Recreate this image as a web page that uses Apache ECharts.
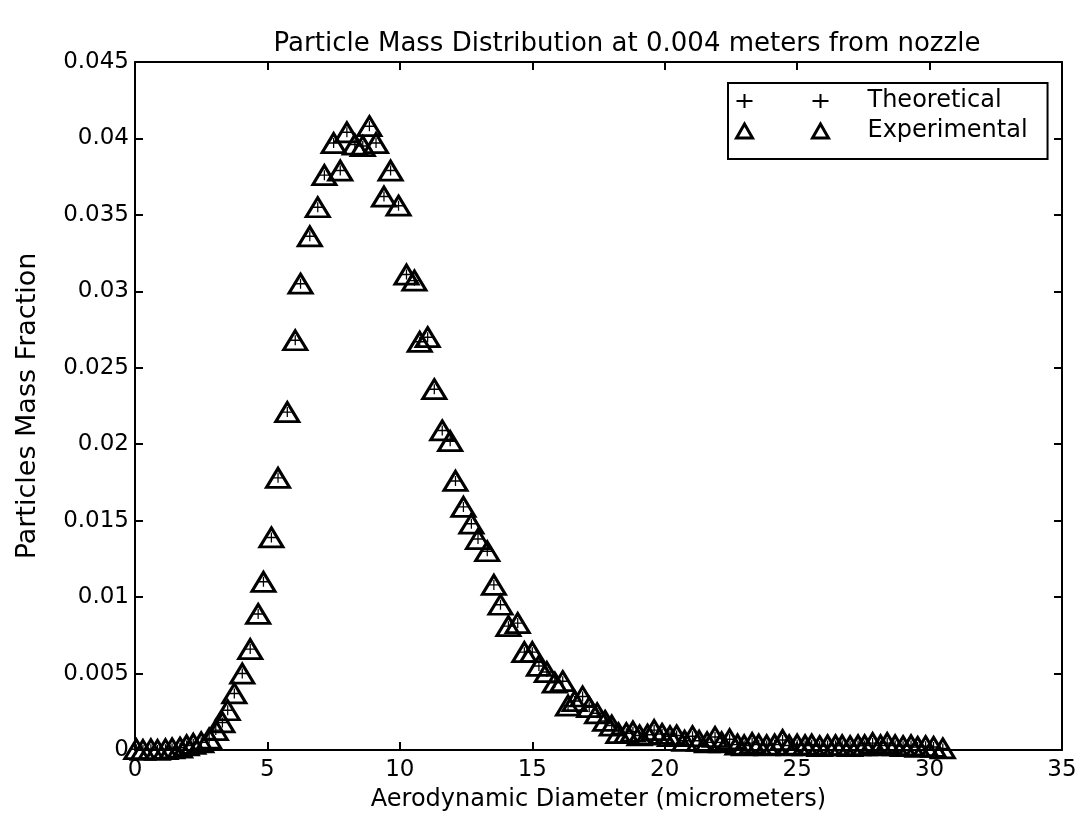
<!DOCTYPE html>
<html>
<head>
<meta charset="utf-8">
<script src="https://cdn.jsdelivr.net/npm/echarts@6/dist/echarts.min.js"></script>
<style>
  html, body { margin: 0; padding: 0; background: #fff; }
  #chart { width: 1092px; height: 820px; }
</style>
</head>
<body>
<div id="chart"></div>
<script>
// 粒径 (micrometers)
var diameter = [0.05, 0.3, 0.6, 0.85, 1.15, 1.4, 1.7, 1.95, 2.2, 2.5,
  2.8, 3.05, 3.3, 3.5, 3.75, 4.05, 4.35, 4.65, 4.85, 5.15,
  5.4, 5.75, 6.05, 6.25, 6.6, 6.9, 7.15, 7.5, 7.75, 8.0,
  8.3, 8.6, 8.85, 9.1, 9.4, 9.65, 9.95, 10.25, 10.55, 10.75,
  11.05, 11.3, 11.6, 11.9, 12.1, 12.4, 12.7, 12.95, 13.3, 13.55,
  13.8, 14.1, 14.45, 14.7, 15.0, 15.25, 15.55, 15.85, 16.15, 16.35,
  16.6, 16.9, 17.15, 17.45, 17.75, 18.0, 18.25, 18.55, 18.8, 19.05,
  19.35, 19.6, 19.9, 20.2, 20.45, 20.75, 21.05, 21.3, 21.6, 21.9,
  22.15, 22.45, 22.75, 23.0, 23.3, 23.55, 23.85, 24.15, 24.45, 24.7,
  25.0, 25.3, 25.55, 25.85, 26.15, 26.45, 26.7, 27.0, 27.3, 27.55,
  27.85, 28.15, 28.4, 28.7, 29.0, 29.3, 29.55, 29.85, 30.15, 30.5];

// 质量分数 (x 1e-3)，理论值和实验值在图上重合
var theoretical = [0.05, 0.0, 0.05, 0.0, 0.05, 0.1, 0.15, 0.3, 0.4, 0.5,
  0.75, 1.3, 1.8, 2.6, 3.7, 5.0, 6.6, 8.9, 11.0, 13.9,
  17.8, 22.1, 26.8, 30.5, 33.6, 35.5, 37.6, 39.7, 37.9, 40.4,
  39.6, 39.5, 40.8, 39.7, 36.2, 37.9, 35.6, 31.1, 30.7, 26.7,
  27.0, 23.6, 20.9, 20.2, 17.6, 15.9, 14.8, 13.8, 13.0, 10.8,
  9.5, 8.1, 8.3, 6.4, 6.4, 5.5, 5.1, 4.4, 4.5, 2.9,
  3.2, 3.5, 2.8, 2.4, 1.9, 1.6, 1.1, 1.1, 1.2, 0.95,
  1.0, 1.3, 1.05, 0.9, 0.95, 0.6, 0.9, 0.6, 0.5, 0.85,
  0.5, 0.7, 0.35, 0.3, 0.45, 0.35, 0.3, 0.35, 0.65, 0.3,
  0.35, 0.3, 0.35, 0.25, 0.3, 0.3, 0.3, 0.25, 0.3, 0.3,
  0.45, 0.3, 0.45, 0.3, 0.25, 0.3, 0.2, 0.25, 0.2, 0.1];
var experimental = theoretical.slice();

var yTicks = ['0', '0.005', '0.01', '0.015', '0.02', '0.025', '0.03', '0.035', '0.04', '0.045'];

function toPairs(ys) {
  var out = [];
  for (var i = 0; i < diameter.length; i++) {
    out.push([diameter[i], ys[i] / 1000]);
  }
  return out;
}

var font = 'DejaVu Sans';
var plusPath = 'path://M7,1h2v6h7v2h-7v6h-2v-6h-7v-2h7z';
var plusPair = 'path://M7,1h2v6h7v2h-7v6h-2v-6h-7v-2h7z M83,1h2v6h7v2h-7v6h-2v-6h-7v-2h7z';
var triPair = 'path://M0,15L8,1L16,15Z M76,15L84,1L92,15Z';

var myChart = echarts.init(document.getElementById('chart'), null, { renderer: 'canvas' });

var tickStyle = { show: true, inside: true, length: 8, lineStyle: { color: '#000', width: 2 } };
var lineStyle = { show: true, onZero: false, lineStyle: { color: '#000', width: 2 } };

var option = {
  backgroundColor: '#fff',
  animation: false,
  title: {
    text: 'Particle Mass Distribution at 0.004 meters from nozzle',
    left: 622, top: 26, textAlign: 'center',
    textStyle: { fontFamily: font, fontSize: 26, fontWeight: 'normal', color: '#000' }
  },
  grid: { left: 135, right: 30, top: 62, bottom: 70 },
  legend: {
    left: 728, top: 83,
    orient: 'vertical',
    backgroundColor: '#fff',
    borderColor: '#000', borderWidth: 2,
    padding: [6, 20, 16, 6],
    itemWidth: 92, itemHeight: 16, itemGap: 6,
    textStyle: { fontFamily: font, fontSize: 24, color: '#000', padding: [0, 0, 0, 34] },
    data: [
      { name: 'Theoretical', icon: plusPair, itemStyle: { color: '#000', borderWidth: 0 } },
      { name: 'Experimental', icon: triPair, itemStyle: { color: 'none', borderColor: '#000', borderWidth: 3 } }
    ]
  },
  xAxis: [{
    type: 'value', min: 0, max: 35, interval: 5,
    name: 'Aerodynamic Diameter (micrometers)', nameLocation: 'middle', nameGap: 38,
    nameTextStyle: { fontFamily: font, fontSize: 24, color: '#000' },
    axisLine: lineStyle, axisTick: tickStyle, splitLine: { show: false },
    axisLabel: { fontFamily: font, fontSize: 23, color: '#000', margin: 9 }
  }, {
    type: 'value', min: 0, max: 35, interval: 5, position: 'top',
    axisLine: lineStyle, axisTick: tickStyle, splitLine: { show: false },
    axisLabel: { show: false }
  }],
  yAxis: [{
    type: 'value', min: 0, max: 0.045, interval: 0.005,
    name: 'Particles Mass Fraction', nameLocation: 'middle', nameGap: 94,
    nameTextStyle: { fontFamily: font, fontSize: 27, color: '#000' },
    axisLine: lineStyle, axisTick: tickStyle, splitLine: { show: false },
    axisLabel: {
      fontFamily: font, fontSize: 23, color: '#000', margin: 6,
      formatter: function (v) { return yTicks[Math.round(v / 0.005)]; }
    }
  }, {
    type: 'value', min: 0, max: 0.045, interval: 0.005, position: 'right',
    axisLine: lineStyle, axisTick: tickStyle, splitLine: { show: false },
    axisLabel: { show: false }
  }],
  series: [{
    name: 'Theoretical',
    type: 'scatter',
    data: toPairs(theoretical),
    symbol: plusPath,
    symbolSize: 10,
    itemStyle: { color: '#000', opacity: 1 },
    z: 3
  }, {
    name: 'Experimental',
    type: 'scatter',
    data: toPairs(experimental),
    symbol: 'triangle',
    symbolSize: [23, 19],
    itemStyle: { color: 'none', borderColor: '#000', borderWidth: 3, opacity: 1 },
    z: 2
  }]
};
myChart.setOption(option);
</script>
</body>
</html>
